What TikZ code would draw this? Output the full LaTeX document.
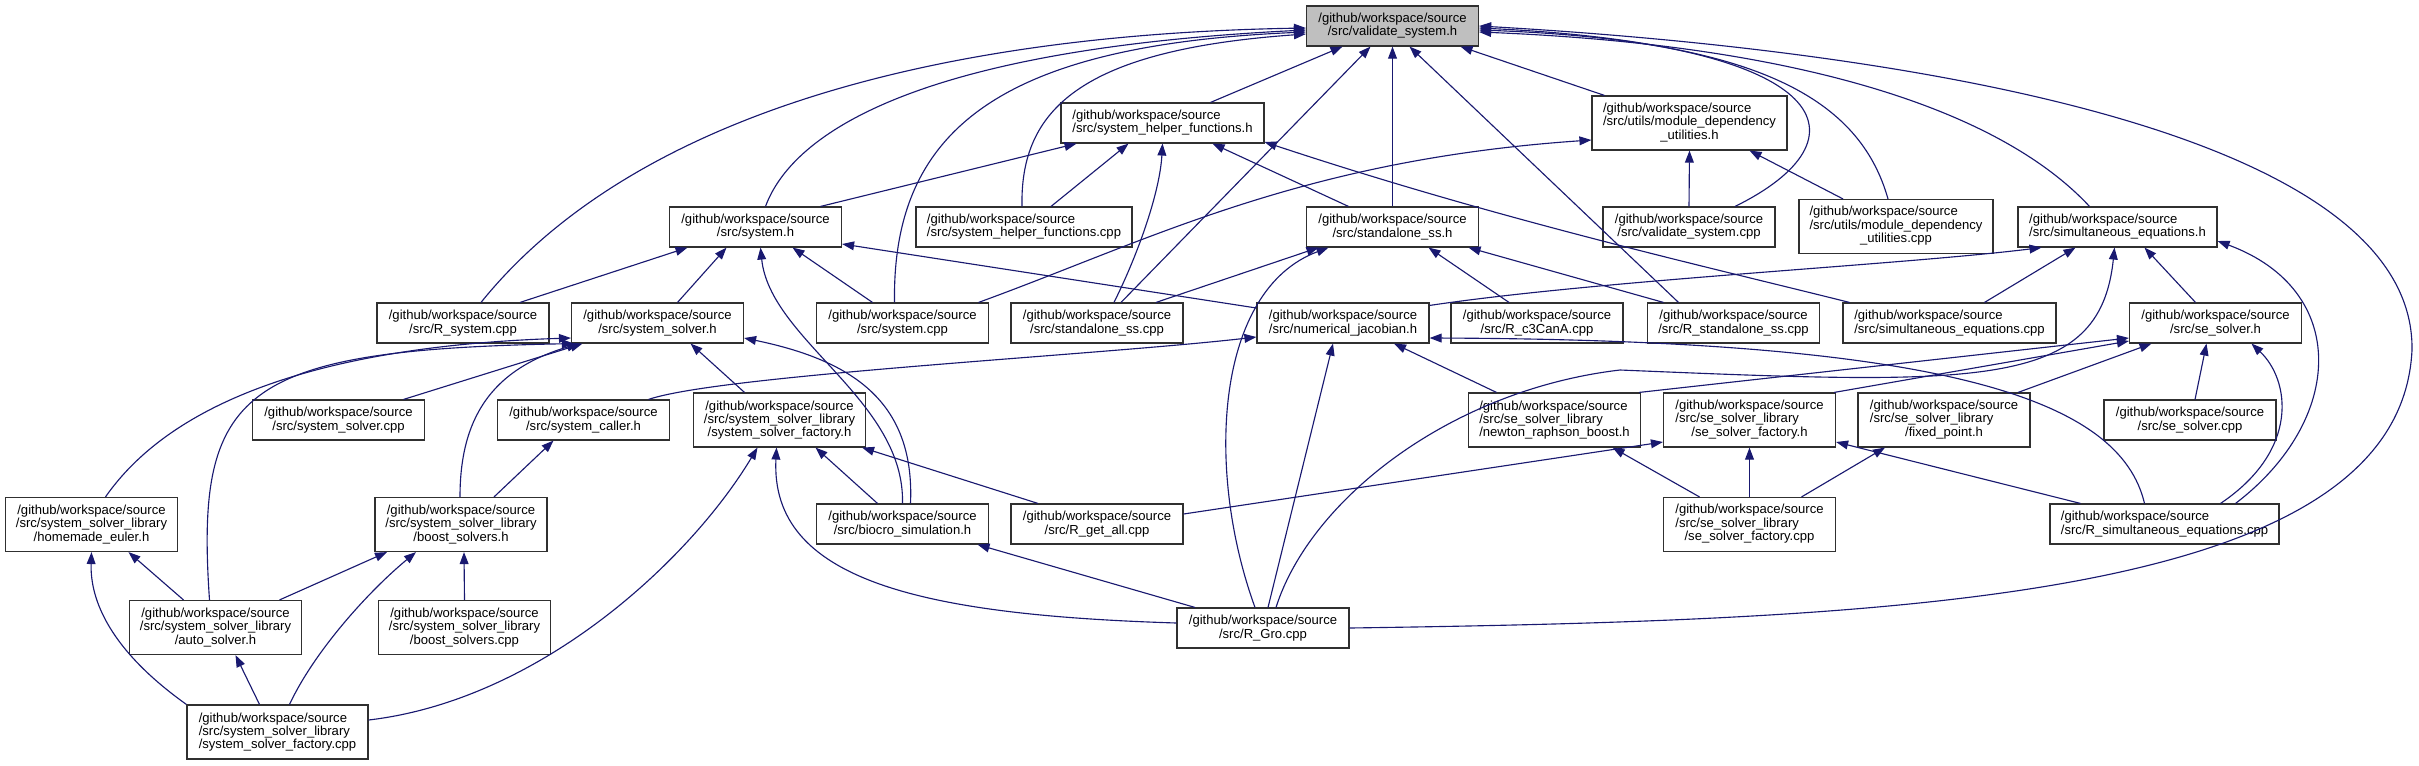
\documentclass[tikz,border=0pt]{standalone}
\usepackage{fontspec}
\setmainfont{Liberation Sans}
\usepackage{tikz}
\usetikzlibrary{arrows.meta,calc}
\definecolor{linkblue}{RGB}{25,25,112}
\definecolor{selgray}{RGB}{191,191,191}
\definecolor{boxline}{RGB}{48,48,48}
\newcommand{\mixlines}[3]{\begin{tabular}{@{}l@{}}#1\\#2\\\multicolumn{1}{@{}c@{}}{#3}\end{tabular}}
\tikzset{
  filebox/.style={draw=boxline,line width=0.8pt,fill=white,align=center,minimum width=4.3cm,minimum height=1cm,inner sep=1pt},
  tallbox/.style={filebox,minimum height=1.35cm},
  incl/.style={-{Triangle[length=0.3cm,width=0.22cm]},linkblue,line width=0.8pt}
}

\begin{document}
\begin{tikzpicture}[x=0.025cm,y=-0.025cm,font=\fontsize{9.3}{9.4}\selectfont]
\path[use as bounding box,fill=white] (0,0) rectangle (2419,765);

% top rows
\node[filebox,fill=selgray] (vsh) at (1392.5,26) {/github/workspace/source\\/src/validate\_system.h};
\node[filebox,align=left,minimum width=5.075cm] (shfh) at (1162.5,123) {/github/workspace/source\\/src/system\_helper\_functions.h};
\node[tallbox,minimum width=4.875cm] (mduh) at (1689.5,123) {\mixlines{/github/workspace/source}{/src/utils/module\_dependency}{\_utilities.h}};
\node[filebox] (sysh) at (755.5,227) {/github/workspace/source\\/src/system.h};
\node[filebox,align=left,minimum width=5.4cm] (shfc) at (1024,227) {/github/workspace/source\\/src/system\_helper\_functions.cpp};
\node[filebox] (ssh) at (1392.5,227) {/github/workspace/source\\/src/standalone\_ss.h};
\node[filebox] (vsc) at (1689,227) {/github/workspace/source\\/src/validate\_system.cpp};
\node[tallbox,minimum width=4.85cm] (mduc) at (1896,226.5) {\mixlines{/github/workspace/source}{/src/utils/module\_dependency}{\_utilities.cpp}};
\node[filebox,align=left,minimum width=4.975cm] (seqh) at (2117.5,227) {/github/workspace/source\\/src/simultaneous\_equations.h};

% middle row
\node[filebox] (rsys) at (463,323) {/github/workspace/source\\/src/R\_system.cpp};
\node[filebox] (ssolh) at (657.5,323) {/github/workspace/source\\/src/system\_solver.h};
\node[filebox] (sysc) at (902.5,323) {/github/workspace/source\\/src/system.cpp};
\node[filebox] (ssc) at (1097,323) {/github/workspace/source\\/src/standalone\_ss.cpp};
\node[filebox] (njac) at (1343,323) {/github/workspace/source\\/src/numerical\_jacobian.h};
\node[filebox] (rc3) at (1537,323) {/github/workspace/source\\/src/R\_c3CanA.cpp};
\node[filebox] (rss) at (1733.5,323) {/github/workspace/source\\/src/R\_standalone\_ss.cpp};
\node[filebox,align=left,minimum width=5.325cm] (seqc) at (1949.5,323) {/github/workspace/source\\/src/simultaneous\_equations.cpp};
\node[filebox] (sesh) at (2215.5,323) {/github/workspace/source\\/src/se\_solver.h};

\node[filebox] (ssolc) at (338.5,420) {/github/workspace/source\\/src/system\_solver.cpp};
\node[filebox] (scall) at (583.5,420) {/github/workspace/source\\/src/system\_caller.h};
\node[tallbox] (ssfh) at (779.5,420) {/github/workspace/source\\/src/system\_solver\_library\\/system\_solver\_factory.h};
\node[tallbox,align=left] (nrb) at (1554.5,420) {/github/workspace/source\\/src/se\_solver\_library\\/newton\_raphson\_boost.h};
\node[tallbox] (sesfh) at (1749.5,420) {\mixlines{/github/workspace/source}{/src/se\_solver\_library}{/se\_solver\_factory.h}};
\node[tallbox] (fpt) at (1944,420) {\mixlines{/github/workspace/source}{/src/se\_solver\_library}{/fixed\_point.h}};
\node[filebox] (sesc) at (2190,420) {/github/workspace/source\\/src/se\_solver.cpp};

% lower rows
\node[tallbox] (heul) at (91.5,524.5) {/github/workspace/source\\/src/system\_solver\_library\\/homemade\_euler.h};
\node[tallbox] (bsh) at (461,524.5) {/github/workspace/source\\/src/system\_solver\_library\\/boost\_solvers.h};
\node[filebox] (bio) at (902.5,524) {/github/workspace/source\\/src/biocro\_simulation.h};
\node[filebox] (rga) at (1097,524) {/github/workspace/source\\/src/R\_get\_all.cpp};
\node[tallbox] (sesfc) at (1749.5,524.5) {\mixlines{/github/workspace/source}{/src/se\_solver\_library}{/se\_solver\_factory.cpp}};
\node[filebox,align=left,minimum width=5.725cm] (rseq) at (2164.5,524) {/github/workspace/source\\/src/R\_simultaneous\_equations.cpp};
\node[tallbox] (auto) at (215.5,627.5) {/github/workspace/source\\/src/system\_solver\_library\\/auto\_solver.h};
\node[tallbox] (bsc) at (464.5,627.5) {/github/workspace/source\\/src/system\_solver\_library\\/boost\_solvers.cpp};
\node[filebox] (rgro) at (1263,628) {/github/workspace/source\\/src/R\_Gro.cpp};
\node[tallbox,align=left,minimum width=4.525cm] (ssfc) at (277.5,732) {/github/workspace/source\\/src/system\_solver\_library\\/system\_solver\_factory.cpp};

% validate_system.h
\draw[incl] ($(rsys.north)+(18,0)$) .. controls (620,130) and (900,35) .. ($(vsh.west)+(0,2)$);
\draw[incl] ($(sysh.north)+(10,0)$) .. controls (790,140) and (900,50) .. ($(vsh.west)+(0,4)$);
\draw[incl] ($(sysc.north)+(-8,0)$) .. controls (892,130) and (1000,45) .. ($(vsh.west)+(0,6)$);
\draw[incl] ($(shfc.north)+(-2,0)$) .. controls (1020,110) and (1080,50) .. ($(vsh.west)+(0,8)$);
\draw[incl] ($(shfh.north)+(48,0)$) -- ($(vsh.south)+(-50,0)$);
\draw[incl] ($(ssc.north)+(24,0)$) -- ($(vsh.south)+(-22,0)$);
\draw[incl] (ssh.north) -- (vsh.south);
\draw[incl] ($(rss.north)+(-55,0)$) -- ($(vsh.south)+(17,0)$);
\draw[incl] ($(mduh.north)+(-85,0)$) -- ($(vsh.south)+(68,0)$);
\draw[incl] ($(vsc.north)+(46,0)$) .. controls (1870,140) and (1840,45) .. ($(vsh.east)+(0,2)$);
\draw[incl] ($(mduc.north)+(-8,0)$) .. controls (1860,100) and (1760,40) .. ($(vsh.east)+(0,4)$);
\draw[incl] ($(seqh.north)+(-28,0)$) .. controls (2000,110) and (1800,45) .. ($(vsh.east)+(0,6)$);
\draw[incl] (rgro.east) .. controls (1900,620) and (2400,600) .. (2412,350) .. controls (2415,130) and (1900,50) .. (vsh.east);

% system_helper_functions.h
\draw[incl] ($(sysh.north)+(65,0)$) -- ($(shfh.south)+(-86,0)$);
\draw[incl] ($(shfc.north)+(27,0)$) -- ($(shfh.south)+(-34,0)$);
\draw[incl] ($(ssc.north)+(17,0)$) .. controls (1140,250) and (1160,190) .. (shfh.south);
\draw[incl] ($(ssh.north)+(-44,0)$) -- ($(shfh.south)+(50,0)$);
\draw[incl] ($(seqc.north)+(-100,0)$) .. controls (1700,265) and (1500,220) .. ($(shfh.east)+(0,19)$);

% module_dependency_utilities.h
\draw[incl] ($(sysc.north)+(76,0)$) .. controls (1150,240) and (1300,160) .. ($(mduh.west)+(0,17)$);
\draw[incl] (vsc.north) -- (mduh.south);
\draw[incl] ($(mduc.north)+(-53,0)$) -- ($(mduh.south)+(60,0)$);

% system.h
\draw[incl] ($(rsys.north)+(57,0)$) -- ($(sysh.south)+(-68,0)$);
\draw[incl] ($(ssolh.north)+(20,0)$) -- ($(sysh.south)+(-29,0)$);
\draw[incl] (bio.north) .. controls (905,400) and (770,340) .. ($(sysh.south)+(5,0)$);
\draw[incl] ($(sysc.north)+(-30,0)$) -- ($(sysh.south)+(37,0)$);
\draw[incl] ($(njac.west)+(0,-15)$) -- ($(sysh.east)+(0,17)$);

% system_solver.h
\draw[incl] ($(heul.north)+(14,0)$) .. controls (180,390) and (350,345) .. ($(ssolh.west)+(0,15)$);
\draw[incl] ($(auto.north)+(-6,0)$) .. controls (195,390) and (240,350) .. ($(ssolh.south west)+(3,0)$);
\draw[incl] ($(bsh.north)+(-1,0)$) .. controls (460,420) and (490,370) .. ($(ssolh.south west)+(8,0)$);
\draw[incl] ($(ssolc.north)+(65,0)$) -- ($(ssolh.south)+(-75,0)$);
\draw[incl] ($(ssfh.north)+(-35,0)$) -- ($(ssolh.south)+(33,0)$);
\draw[incl] ($(bio.north)+(8,0)$) .. controls (915,400) and (850,360) .. ($(ssolh.east)+(0,15)$);

% system_caller.h
\draw[incl] ($(bsh.north)+(33,0)$) -- ($(scall.south)+(-30,0)$);

% system_solver_factory.h
\draw[incl] ($(ssfc.east)+(0,-12)$) .. controls (540,700) and (690,560) .. ($(ssfh.south)+(-22,0)$);
\draw[incl] ($(rgro.west)+(0,-5)$) .. controls (920,615) and (770,580) .. ($(ssfh.south)+(-3,0)$);
\draw[incl] ($(bio.north)+(-25,0)$) -- ($(ssfh.south)+(36,0)$);
\draw[incl] ($(rga.north)+(-59,0)$) -- ($(ssfh.south east)+(-4,0)$);

% numerical_jacobian.h
\draw[incl] ($(scall.north)+(65,0)$) .. controls (720,375) and (1100,355) .. ($(njac.west)+(0,14)$);
\draw[incl] ($(rgro.north)+(5,0)$) -- ($(njac.south)+(-10,0)$);
\draw[incl] ($(nrb.north)+(-58,0)$) -- ($(njac.south)+(51,0)$);
\draw[incl] ($(rseq.north)+(-20,0)$) .. controls (2120,400) and (1950,340) .. ($(njac.east)+(0,15)$);

% simultaneous_equations.h
\draw[incl] ($(njac.north east)+(0,3)$) .. controls (1600,280) and (1900,265) .. ($(seqh.south)+(-76,0)$);
\draw[incl] ($(seqc.north)+(35,0)$) -- ($(seqh.south)+(-42,0)$);
\draw[incl] ($(rgro.north)+(13,0)$) .. controls (1310,500) and (1450,390) .. (1620,370) .. controls (1980,385) and (2100,390) .. ($(seqh.south)+(-3,0)$);
\draw[incl] ($(sesh.north)+(-20,0)$) -- ($(seqh.south)+(27,0)$);
\draw[incl] ($(rseq.north)+(71,0)$) .. controls (2345,420) and (2350,290) .. ($(seqh.east)+(0,14)$);

% se_solver.h
\draw[incl] ($(nrb.north east)+(-2,0)$) -- ($(sesh.west)+(0,15)$);
\draw[incl] ($(sesfh.north east)+(-2,0)$) -- ($(sesh.west)+(0,18)$);
\draw[incl] ($(fpt.north)+(74,0)$) -- ($(sesh.south)+(-64,0)$);
\draw[incl] ($(sesc.north)+(5,0)$) -- ($(sesh.south)+(-9,0)$);
\draw[incl] ($(rseq.north)+(56,0)$) .. controls (2300,450) and (2290,380) .. ($(sesh.south)+(36,0)$);

% se_solver_library
\draw[incl] ($(rga.east)+(0,-10)$) -- ($(sesfh.west)+(0,22)$);
\draw[incl] (sesfc.north) -- (sesfh.south);
\draw[incl] ($(rseq.north)+(-84,0)$) -- ($(sesfh.east)+(0,22)$);
\draw[incl] ($(sesfc.north)+(52,0)$) -- ($(fpt.south)+(-59,0)$);
\draw[incl] ($(sesfc.north)+(-50,0)$) -- ($(nrb.south)+(58,0)$);

% standalone_ss.h
\draw[incl] ($(ssc.north)+(59,0)$) -- ($(ssh.south)+(-74,0)$);
\draw[incl] ($(rgro.north)+(-8,0)$) .. controls (1205,470) and (1215,290) .. ($(ssh.south)+(-64,0)$);
\draw[incl] ($(rc3.north)+(-28,0)$) -- ($(ssh.south)+(36,0)$);
\draw[incl] ($(rss.north)+(-70,0)$) -- ($(ssh.south)+(76,0)$);

% system_solver_library
\draw[incl] ($(auto.north)+(-32,0)$) -- ($(heul.south)+(37,0)$);
\draw[incl] (ssfc.north west) .. controls (110,650) and (90,600) .. (heul.south);
\draw[incl] ($(auto.north)+(64,0)$) -- ($(bsh.south)+(-74,0)$);
\draw[incl] ($(ssfc.north)+(12,0)$) .. controls (315,650) and (370,590) .. ($(bsh.south)+(-45,0)$);
\draw[incl] (bsc.north) -- ($(bsh.south)+(3,0)$);
\draw[incl] ($(ssfc.north)+(-18,0)$) -- ($(auto.south)+(20,0)$);

% biocro_simulation.h
\draw[incl] ($(rgro.north)+(-68,0)$) -- ($(bio.south)+(75,0)$);
\end{tikzpicture}
\end{document}
